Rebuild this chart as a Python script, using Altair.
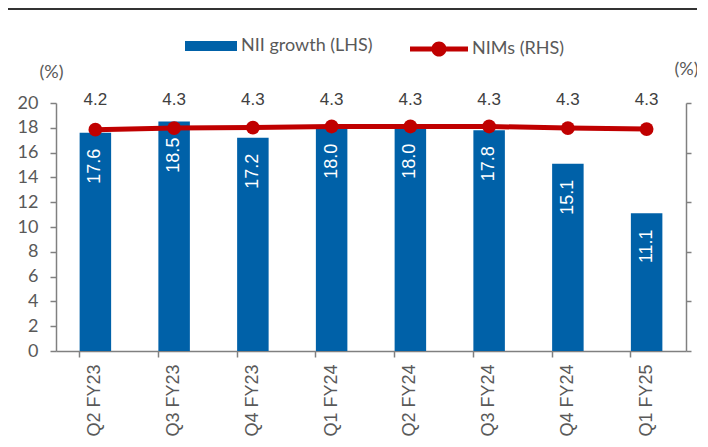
import altair as alt
import pandas as pd

quarters = ["Q2 FY23", "Q3 FY23", "Q4 FY23", "Q1 FY24", "Q2 FY24", "Q3 FY24", "Q4 FY24", "Q1 FY25"]
nii_growth = [17.6, 18.5, 17.2, 18.0, 18.0, 17.8, 15.1, 11.1]
nims = [4.24, 4.27, 4.28, 4.30, 4.30, 4.30, 4.27, 4.25]
left_ticks = [0, 2, 4, 6, 8, 10, 12, 14, 16, 18, 20]
right_ticks = [0, 0.95, 1.9, 2.85, 3.8, 4.75]
bar_name = "NII growth (LHS)"
line_name = "NIMs (RHS)"

df = pd.DataFrame({"q": quarters, "nii": nii_growth, "nim": nims})
df["s1"] = bar_name
df["s2"] = line_name

BLUE = "#0061A8"
RED = "#C00000"
GRAY = "#595959"
AX = "#808080"

x = alt.X("q:N", sort=quarters,
          scale=alt.Scale(paddingInner=0.6, paddingOuter=0.3),
          axis=alt.Axis(title=None, labelAngle=-90, labelAlign="right", labelBaseline="middle",
                        labelFont="Liberation Sans", labelFontSize=18, labelColor=GRAY,
                        labelPadding=7, tickSize=6, tickColor=AX, domainColor=AX,
                        tickWidth=1.5, domainWidth=1.5, bandPosition=0))

y_left = alt.Y("nii:Q", scale=alt.Scale(domain=[0, 20]),
               axis=alt.Axis(values=left_ticks, grid=False, title="(%)", titleAngle=0,
                             titleX=-5, titleY=-31, titleAlign="center", titleBaseline="middle",
                             titleFont="Lato", titleFontSize=18, titleFontWeight="normal",
                             titleColor=GRAY, labelFont="Lato", labelFontSize=18,
                             labelColor=GRAY, labelPadding=12, tickSize=6, tickColor=AX,
                             domainColor=AX, tickWidth=1.5, domainWidth=1.5))

y_right = alt.Y("nim:Q", scale=alt.Scale(domain=[0, 4.75]),
                axis=alt.Axis(orient="right", values=right_ticks, labels=False, grid=False,
                              title="(%)", titleAngle=0, titleX=0, titleY=-34,
                              titleAlign="center", titleBaseline="middle",
                              titleFont="Lato", titleFontSize=18, titleFontWeight="normal",
                              titleColor=GRAY, tickSize=5, tickColor=AX, domainColor=AX,
                              tickWidth=1.5, domainWidth=1.5))

base = alt.Chart(df)

bars = base.mark_bar().encode(
    x=x, y=y_left,
    fill=alt.Fill("s1:N", scale=alt.Scale(range=[BLUE]),
                  legend=alt.Legend(title=None, orient="none", legendX=129, legendY=-83,
                                    symbolType="M-1,-0.19L1,-0.19L1,0.19L-1,0.19Z",
                                    symbolSize=2704, symbolStrokeWidth=0, padding=0,
                                    labelFont="Lato", labelFontSize=18, labelColor=GRAY,
                                    labelOffset=4)))

bar_labels = base.mark_text(angle=270, align="right", baseline="middle", dx=-16,
                            color="white", font="Liberation Sans", fontSize=18).encode(
    x=x, y=y_left, text=alt.Text("nii:Q", format=".1f"))

left = alt.layer(bars, bar_labels)

line = base.mark_line(color=RED, strokeWidth=5).encode(x=x, y=y_right)
points = base.mark_circle(size=190, opacity=1).encode(
    x=x, y=y_right,
    color=alt.Color("s2:N", scale=alt.Scale(range=[RED]),
                    legend=alt.Legend(title=None, orient="none", legendX=354, legendY=-83,
                                      symbolType="M-1,-0.09L1,-0.09L1,0.09L-1,0.09Z M0.26,0A0.26,0.26,0,1,1,-0.26,0A0.26,0.26,0,1,1,0.26,0Z",
                                      symbolSize=3364, symbolStrokeWidth=0, symbolOpacity=1,
                                      padding=0, labelFont="Lato", labelFontSize=18,
                                      labelColor=GRAY, labelOffset=4)))
line_labels = base.mark_text(baseline="bottom", align="center", color="#404040",
                             font="Liberation Sans", fontSize=17).encode(
    x=x, y=alt.value(6), text=alt.Text("nim:Q", format=".1f"))

right = alt.layer(line, points, line_labels)

top_rule = alt.Chart(df).mark_rule(color="#333333", strokeWidth=2).encode(
    x=alt.value(-48), x2=alt.value(641), y=alt.value(-94))

chart = alt.layer(left, right, top_rule).resolve_scale(y="independent").properties(
    width=630, height=248,
    padding={"left": 48, "top": 95, "right": 11, "bottom": 88},
    autosize=alt.AutoSizeParams(type="none"),
).configure_view(stroke=None)

chart.save("out.html", embed_options={"renderer": "svg", "actions": False})
